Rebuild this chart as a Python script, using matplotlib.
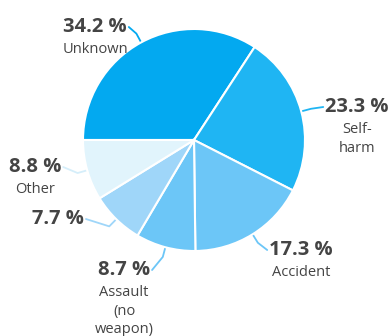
import numpy as np
import matplotlib
matplotlib.use("Agg")
import matplotlib.pyplot as plt

# data
categories = ["Unknown", "Self-\nharm", "Accident", "Assault\n(no\nweapon)", "", "Other"]
shares = [34.2, 23.3, 17.3, 8.7, 7.7, 8.8]
colors = ["#03A9F0", "#1FB5F3", "#6CC6F7", "#6CC6F7", "#9FD6F9", "#E1F4FC"]

# label layout: centre x, baseline y of the percent (pixels from top), leader side
label_pos = [(95, 32, "right"), (357, 112, "left"), (301, 255, "left"),
             (124, 275, "right"), (58, 224, "right"), (35, 172, "right")]

W, H = 391, 336
cx, cy, rad = 194, H - 140, 111
txt = "#444444"
plt.rcParams["font.family"] = ["Open Sans", "DejaVu Sans"]

fig = plt.figure(figsize=(W / 100, H / 100), dpi=100)
ax = fig.add_axes([0, 0, 1, 1])

wedges, _ = ax.pie(shares, colors=colors, startangle=180, counterclock=False,
                   center=(cx, cy), radius=rad, frame=True,
                   wedgeprops=dict(edgecolor="white", linewidth=1.5))
ax.set_xlim(0, W)
ax.set_ylim(0, H)
ax.set_aspect("equal")
ax.axis("off")

for w, share, name, (lx, ly, side), col in zip(wedges, shares, categories, label_pos, colors):
    mid = np.deg2rad((w.theta1 + w.theta2) / 2)
    ax_, ay_ = cx + rad * np.cos(mid), cy + rad * np.sin(mid)
    bx, by = cx + (rad + 10) * np.cos(mid), cy + (rad + 10) * np.sin(mid)
    pct = f"{share:.1f} %"
    ty = H - ly
    t = ax.text(lx, ty, pct, ha="center", va="baseline", fontsize=14.5,
                fontweight="bold", color=txt)
    fig.canvas.draw()
    bb = t.get_window_extent().transformed(ax.transData.inverted())
    ex = bb.x1 + 2 if side == "right" else bb.x0 - 2
    lc = col if col != "#E1F4FC" else "#D5EEFA"
    ax.plot([ax_, bx, ex], [ay_, by, ty + 5], color=lc, lw=1.3,
            solid_capstyle="round", zorder=0)
    for i, line in enumerate(name.split("\n") if name else []):
        ax.text(lx, ty - 21 - i * 18.5, line, ha="center", va="baseline",
                fontsize=10.5, color=txt)

fig.savefig("out.png", dpi=100)
